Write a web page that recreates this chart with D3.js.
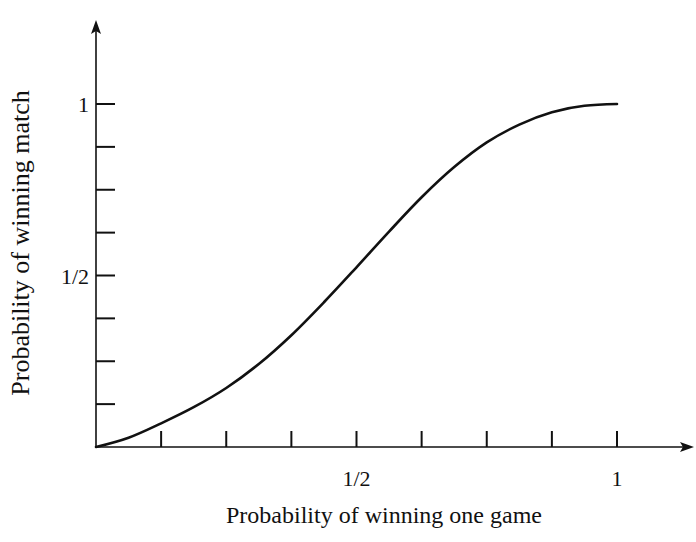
<!DOCTYPE html>
<html><head><meta charset="utf-8">
<script src="https://cdn.jsdelivr.net/npm/d3@7"></script>
<style>body{margin:0;background:#fff}svg{display:block}text{font-family:"Liberation Serif","DejaVu Serif",serif;fill:#111}</style>
</head><body>
<svg id="c" width="696" height="542"></svg>
<script>
// Probability of winning one game (x) vs probability of winning match (y)
const gameProb  = [0, 0.0625, 0.125, 0.1875, 0.25, 0.3125, 0.375, 0.4375, 0.5, 0.5625, 0.625, 0.6875, 0.75, 0.8125, 0.875, 0.9375, 1.0];
const matchProb = [0, 0.027, 0.069, 0.116, 0.172, 0.242, 0.326, 0.422, 0.524, 0.628, 0.728, 0.816, 0.888, 0.940, 0.976, 0.995, 1.0];
const xTicks = [0.125, 0.25, 0.375, 0.5, 0.625, 0.75, 0.875, 1];
const yTicks = [0.125, 0.25, 0.375, 0.5, 0.625, 0.75, 0.875, 1];
const xTickLabels = {0.5: "1/2", 1: "1"};
const yTickLabels = {0.5: "1/2", 1: "1"};

const svg = d3.select("#c");
const x = d3.scaleLinear().domain([0, 1]).range([96, 617]);
const y = d3.scaleLinear().domain([0, 1]).range([447, 104]);
const ink = "#111";

// axes lines
svg.append("line").attr("x1", x(0)).attr("x2", 684).attr("y1", y(0)).attr("y2", y(0))
  .attr("stroke", ink).attr("stroke-width", 1.6);
svg.append("line").attr("x1", x(0)).attr("x2", x(0)).attr("y1", y(0)).attr("y2", 30)
  .attr("stroke", ink).attr("stroke-width", 1.6);
// arrowheads
svg.append("path").attr("d", `M${694},${y(0)} L${680},${y(0)-5} L${683},${y(0)} L${680},${y(0)+5} Z`).attr("fill", ink);
svg.append("path").attr("d", `M${x(0)},${20} L${x(0)-5},${34} L${x(0)},${31} L${x(0)+5},${34} Z`).attr("fill", ink);

// x ticks
svg.selectAll(".xt").data(xTicks).enter().append("line")
  .attr("x1", d => x(d)).attr("x2", d => x(d)).attr("y1", y(0)).attr("y2", y(0) - 16)
  .attr("stroke", ink).attr("stroke-width", 2);
svg.selectAll(".xl").data(xTicks.filter(d => xTickLabels[d])).enter().append("text")
  .attr("x", d => x(d)).attr("y", 486).attr("text-anchor", "middle").attr("font-size", 22)
  .text(d => xTickLabels[d]);

// y ticks
svg.selectAll(".yt").data(yTicks).enter().append("line")
  .attr("x1", x(0)).attr("x2", x(0) + 19).attr("y1", d => y(d)).attr("y2", d => y(d))
  .attr("stroke", ink).attr("stroke-width", 2);
svg.selectAll(".yl").data(yTicks.filter(d => yTickLabels[d])).enter().append("text")
  .attr("x", 89).attr("y", d => y(d) + 8).attr("text-anchor", "end").attr("font-size", 22)
  .text(d => yTickLabels[d]);

// curve
const pts = gameProb.map((g, i) => [g, matchProb[i]]);
svg.append("path").datum(pts)
  .attr("d", d3.line().x(d => x(d[0])).y(d => y(d[1])).curve(d3.curveMonotoneX))
  .attr("fill", "none").attr("stroke", ink).attr("stroke-width", 2.6).attr("stroke-linecap", "round");

// axis titles
svg.append("text").attr("x", 384).attr("y", 523).attr("text-anchor", "middle").attr("font-size", 24)
  .text("Probability of winning one game");
svg.append("text").attr("transform", "translate(29,243) rotate(-90)").attr("text-anchor", "middle").attr("font-size", 26)
  .text("Probability of winning match");
</script>
</body></html>
